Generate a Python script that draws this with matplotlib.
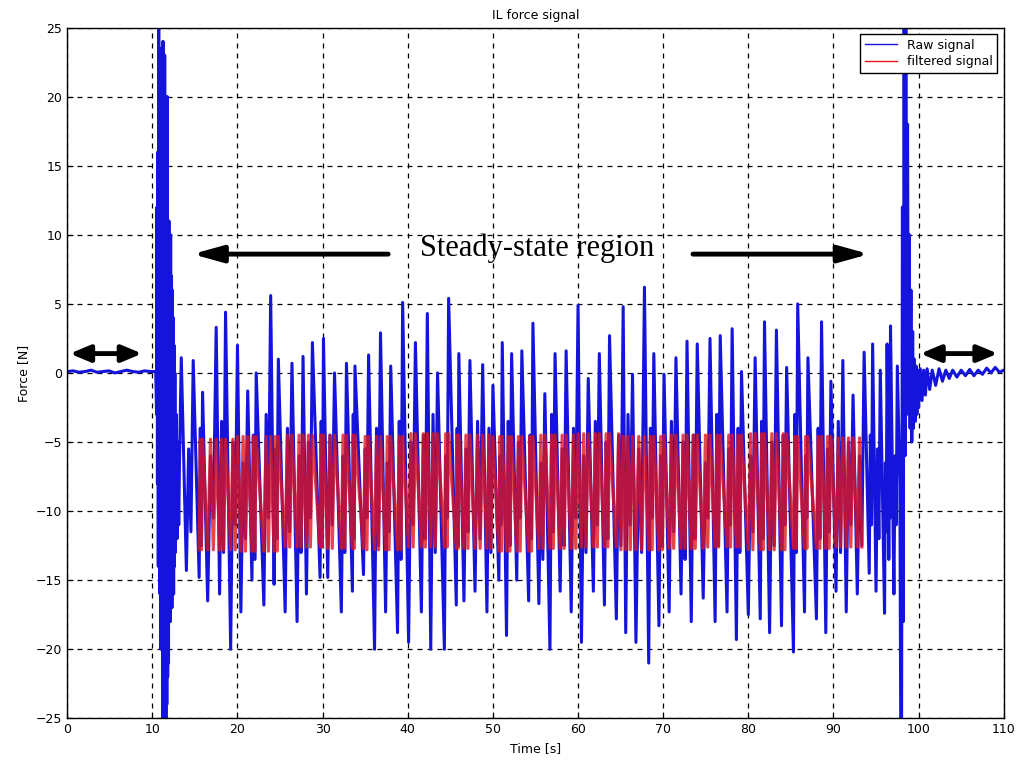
import matplotlib
matplotlib.use("Agg")
import matplotlib.pyplot as plt
import numpy as np

# --- raw signal ---
# quiet part before the test starts
pre_t = [0, 0.7, 1.4, 2.1, 2.8, 3.5, 4.2, 4.9, 5.6, 6.3, 7.0, 7.7, 8.4, 9.1, 9.8, 10.4]
pre_v = [0.1, 0.15, 0.05, 0.1, 0.2, 0.05, 0.1, 0.15, 0.0, 0.1, 0.2, 0.1, 0.05, 0.15, 0.1, 0.1]

# start-up burst
burst_t = [10.5, 10.55, 10.6, 10.65, 10.7, 10.75, 10.8, 10.85, 10.9, 10.95, 11.0, 11.05,
           11.1, 11.15, 11.2, 11.25, 11.3, 11.35, 11.4, 11.45, 11.5, 11.55, 11.6, 11.65,
           11.7, 11.75, 11.8, 11.85, 11.9, 11.95, 12.0, 12.05, 12.1, 12.15, 12.2, 12.25,
           12.3, 12.35, 12.4, 12.45, 12.5, 12.55, 12.6, 12.65, 12.7, 12.8, 12.9, 13.0, 13.1, 13.2]
burst_v = [-3, 12, -8, 16, -14, 25.5, -12, 21, -16, 23.5, -20, 17,
           -18, 22, -25.5, 24, -24, 14, -25.5, 23, -25.5, 18, -25.5, 12,
           -24, 20, -22, 10, -21, 11, -17, 9, -18, 10, -16, 7,
           -17, 6, -15, 4, -16, 2, -14, 0, -13, -3, -12, -5, -11, -6]

# steady state: peaks and troughs
peak_t = [13.4, 14.8, 15.9, 17.5, 18.6, 20.0, 21.2, 22.2, 23.9, 24.8, 26.4, 27.7, 28.8,
          30.1, 31.4, 32.8, 33.8, 35.4, 36.8, 38.0, 39.4, 40.9, 42.3, 43.5, 44.8, 46.0, 47.3,
          48.8, 50.0, 51.1, 52.2, 53.4, 54.7, 56.1, 57.3, 58.6, 60.0, 61.2, 62.5, 63.7, 65.3,
          66.4, 67.8, 68.9, 70.1, 71.5, 72.8, 74.0, 75.5, 76.7, 78.1, 79.2, 80.8, 81.9, 83.3,
          84.5, 85.8, 87.0, 88.6, 89.7, 91.1, 92.3, 93.6, 94.6, 95.5, 96.3, 96.7, 97.5]
peak_v = [1.1, 0.9, -1.4, 3.3, 4.4, 2.0, -1.3, 0.0, 5.6, 1.0, 0.7, 1.2, 2.2,
          2.5, 0.0, 0.7, 0.5, 1.3, 2.9, 0.5, 5.1, 2.2, 4.3, 0.0, 5.4, 1.4, 0.9,
          0.6, -0.9, 2.2, 1.4, 1.6, 3.6, -1.5, 1.4, 1.6, 4.9, -0.4, 1.4, 2.7, 4.8,
          -0.1, 6.2, 1.4, -0.1, 1.1, 2.3, 2.1, 2.5, 2.7, 3.2, 0.1, 1.1, 3.7, 3.1,
          0.4, 5.0, 1.1, 3.7, -0.6, 0.9, -1.6, 1.5, 2.1, 0.2, 2.1, 3.4, 0.5]
trough_t = [14.0, 15.5, 16.5, 17.9, 19.2, 20.4, 21.7, 23.1, 24.3, 25.6, 27.0, 28.1, 29.7,
            30.6, 32.2, 33.5, 34.8, 36.1, 37.4, 38.8, 40.1, 41.6, 42.7, 44.3, 45.7, 46.6, 47.9,
            49.3, 50.7, 51.6, 52.8, 54.2, 55.4, 56.7, 57.9, 59.2, 60.4, 61.8, 63.1, 64.5,
            65.6, 66.8, 68.3, 69.5, 70.7, 72.1, 73.3, 74.7, 76.1, 77.5, 78.6, 80.0, 81.4,
            82.5, 83.9, 85.3, 86.6, 88.0, 89.1, 90.3, 91.5, 92.8, 94.2, 95.0, 96.0, 96.5, 97.1]
trough_v = [-14.3, -14.8, -16.5, -16.0, -20.0, -17.3, -15.0, -16.8, -15.3, -17.3, -18.0, -16.0, -14.8,
            -14.8, -17.3, -15.8, -14.6, -20.0, -17.3, -18.8, -19.5, -17.3, -20.0, -20.0, -16.8, -16.5, -15.8,
            -17.3, -15.0, -19.0, -15.0, -16.5, -16.7, -20.0, -15.8, -17.3, -19.5, -15.8, -16.8, -17.8,
            -18.8, -19.5, -21.0, -18.3, -17.3, -16.0, -18.0, -16.3, -18.0, -17.3, -19.3, -17.5, -17.8,
            -18.8, -18.3, -20.2, -17.3, -17.8, -18.8, -15.8, -17.3, -16.0, -14.5, -15.8, -17.4, -13.5, -16.0]
# smaller swings inside the band after each trough (up to body_hi, back to body_lo)
body_hi = [-5.5, -4.0, -6.0, -3.5, -5.0, -6.5, -4.5, -3.0, -5.5, -4.0, -6.0, -5.0, -3.5,
           -4.5, -6.0, -3.0, -5.5, -4.0, -6.5, -3.5, -5.0, -4.5, -3.0, -6.0, -4.0, -5.5, -3.5,
           -4.0, -6.0, -3.5, -5.0, -4.5, -6.5, -3.0, -5.5, -4.0, -6.0, -3.5, -5.0, -4.5,
           -3.0, -5.5, -4.0, -6.0, -3.5, -5.0, -4.5, -6.5, -3.0, -5.5, -4.0, -6.0, -3.5,
           -5.0, -4.5, -3.0, -6.0, -4.0, -5.5, -3.5, -5.0, -6.0, -4.5, -5.5, -6.5, -7.0, -6.0]
body_lo = [-11.5, -12.5, -10.5, -13.0, -11.0, -12.0, -13.5, -10.5, -12.0, -11.5, -13.0, -10.5, -12.5,
           -11.0, -13.0, -12.0, -10.5, -12.5, -11.5, -13.5, -11.0, -12.0, -13.0, -10.5, -12.5, -11.5, -12.0,
           -13.0, -11.0, -12.5, -10.5, -12.0, -13.5, -11.5, -12.5, -10.5, -13.0, -11.0, -12.0, -12.5,
           -11.0, -13.0, -10.5, -12.5, -11.5, -13.5, -12.0, -10.5, -12.5, -11.0, -13.0, -11.5, -12.0,
           -12.5, -11.0, -13.0, -10.5, -12.0, -11.5, -13.0, -11.0, -12.5, -11.0, -12.0, -11.5, -10.5, -11.0]

# stop transient and decay back to zero
end_t = [97.8, 97.9, 98.0, 98.1, 98.2, 98.3, 98.4, 98.5, 98.6, 98.7, 98.8, 98.9, 99.0, 99.1,
         99.2, 99.3, 99.4, 99.5, 99.6, 99.7, 99.8, 99.9, 100.0, 100.2, 100.4, 100.6, 100.8,
         101.0, 101.3, 101.6, 102.0, 102.4, 102.8, 103.2, 103.6, 104.0, 104.5, 105.0, 105.5,
         106.0, 106.5, 107.0, 107.5, 108.0, 108.5, 109.0, 109.5, 110.0]
end_v = [-8, -25.5, -25.5, 12, -18, 25.5, -6, 25.5, 0, 18, -3, 10, -4, 6,
         -5, 3, -4, 1, -3.5, 0.5, -3, 0.2, -2.5, 0.3, -2.0, 0.2, -1.6,
         0.3, -1.2, 0.2, -0.9, 0.3, -0.6, 0.2, -0.4, 0.2, -0.3, 0.2, -0.2,
         0.25, -0.2, 0.2, -0.1, 0.35, 0.0, 0.4, 0.05, 0.2]

# --- filtered signal band (top / bottom per 5 s window) ---
red_start, red_end = 15.5, 93.5
red_win = [15, 20, 25, 30, 35, 40, 45, 50, 55, 60, 65, 70, 75, 80, 85, 90]
red_top = [-4.8, -4.6, -4.5, -4.5, -4.6, -4.4, -4.5, -4.6, -4.5, -4.4, -4.6, -4.5, -4.5, -4.4, -4.6, -4.7]
red_bot = [-12.8, -12.9, -12.6, -12.7, -12.8, -12.6, -12.7, -12.9, -12.7, -12.6, -12.8, -12.7, -12.6, -12.8, -12.7, -12.6]

# assemble raw signal: each trough is followed by its in-band swing
pts = [(t, v, None) for t, v in zip(peak_t, peak_v)]
pts += [(t, v, i) for i, (t, v) in enumerate(zip(trough_t, trough_v))]
pts.sort(key=lambda p: p[0])
ss_t, ss_v = [], []
for j, (t, v, i) in enumerate(pts):
    ss_t.append(t)
    ss_v.append(v)
    if i is not None and j + 1 < len(pts):
        dt = pts[j + 1][0] - t
        ss_t += [t + dt / 3, t + 2 * dt / 3]
        ss_v += [body_hi[i], body_lo[i]]

raw_t = pre_t + burst_t + ss_t + end_t
raw_v = pre_v + burst_v + ss_v + end_v

# filtered signal switches between its band edges with the raw swings
f_t, f_v = [], []
for t, v in zip(ss_t, ss_v):
    if red_start <= t <= red_end:
        k = np.searchsorted(red_win, t, side='right') - 1
        f_t.append(t)
        f_v.append(red_top[k] if v > -8.5 else red_bot[k])

fig = plt.figure(figsize=(10.18, 7.65), dpi=100)
ax = fig.add_axes([0.066, 0.061, 0.920, 0.903])

ax.plot(raw_t, raw_v, color='#1414dc', lw=2.2, label='Raw signal')
ax.plot(f_t, f_v, color='#e0161e', lw=2.3, alpha=0.8, label='filtered signal')

ax.set_xlim(0, 110)
ax.set_ylim(-25, 25)
ax.set_xticks(np.arange(0, 111, 10))
ax.set_yticks(np.arange(-25, 26, 5))
ax.grid(True, color='k', ls=(0, (4, 4)), lw=0.9)
ax.tick_params(direction='in', labelsize=9, length=4)
for s in ax.spines.values():
    s.set_linewidth(1.0)

ax.set_title('IL force signal', fontsize=9)
ax.set_xlabel('Time [s]', fontsize=9)
ax.set_ylabel('Force [N]', fontsize=9)
leg = ax.legend(loc='upper right', fontsize=9, fancybox=False, edgecolor='k',
                framealpha=1, handlelength=2.5, borderpad=0.4, labelspacing=0.25)
for h in leg.get_lines():
    h.set_linewidth(1.0)
    h.set_alpha(1)

# annotations
ax.text(55.2, 9.0, 'Steady-state region', family='Liberation Serif',
        fontsize=22, ha='center', va='center')
arr = dict(arrowstyle='-|>,head_width=0.25,head_length=0.9', lw=3.5, color='k',
           mutation_scale=20, shrinkA=0, shrinkB=0)
ax.annotate('', xy=(14.7, 8.6), xytext=(37.7, 8.6), arrowprops=arr)
ax.annotate('', xy=(94.2, 8.6), xytext=(73.5, 8.6), arrowprops=arr)
darr = dict(arrowstyle='<|-|>,head_width=0.25,head_length=0.6', lw=3.5, color='k',
            mutation_scale=20, shrinkA=0, shrinkB=0)
ax.annotate('', xy=(0.3, 1.4), xytext=(8.8, 1.4), arrowprops=darr)
ax.annotate('', xy=(100.2, 1.4), xytext=(109.3, 1.4), arrowprops=darr)

fig.savefig('out.png', dpi=100)
